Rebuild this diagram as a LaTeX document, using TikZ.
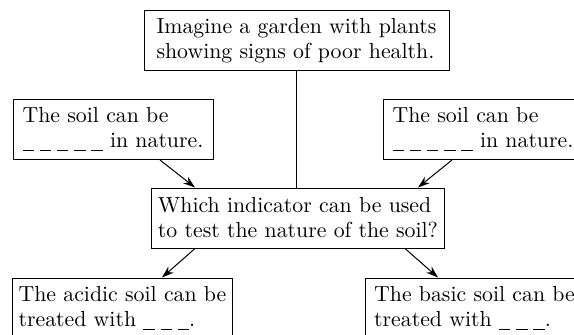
\documentclass[tikz,border=0pt]{standalone}
\usepackage{amsmath}
\usetikzlibrary{arrows.meta}
\newcommand{\blankDash}{\rule[-1.6pt]{0.52em}{0.45pt}}
\newcommand{\blankLong}{\blankDash\hspace{0.27em}\blankDash\hspace{0.27em}\blankDash\hspace{0.27em}\blankDash\hspace{0.27em}\blankDash}
\newcommand{\blankShort}{\blankDash\hspace{0.27em}\blankDash\hspace{0.27em}\blankDash}

\begin{document}
\begin{tikzpicture}[x=1pt,y=1pt,
  box/.style={draw, line width=0.5pt, align=left, inner sep=3pt, minimum height=30pt, font=\fontsize{10.9}{12.5}\selectfont},
  flow/.style={line width=0.5pt, -{Stealth[length=6pt,width=4pt]}}]
\useasboundingbox (0,0) rectangle (287,-167);
\clip (0,0) rectangle (287,-167);
%question boxes
\node[box, minimum width=152.5pt] (garden)     at (148.25, -20.25) {Imagine a garden with plants\\showing signs of poor health.};
\node[box, minimum width=146pt]   (indicator)  at (149,   -109)    {Which indicator can be used\\to test the nature of the soil?};
%soil nature
\node[box, minimum width=100pt]   (soilLeft)   at ( 56.5,  -64.75) {The soil can be\\\blankLong{} in nature.};
\node[box, minimum width=100pt]   (soilRight)  at (241.5,  -64.75) {The soil can be\\\blankLong{} in nature.};
%treatment
\node[box, minimum width=109.5pt] (acidic)     at ( 61.25, -154)   {The acidic soil can be\\treated with \blankShort.};
\node[box, minimum width=109.5pt] (basic)      at (237.25, -154)   {The basic soil can be\\treated with \blankShort.};

\draw[line width=0.5pt] (garden.south) -- (garden.south |- indicator.north);
\draw[flow] ([xshift=23.5pt]soilLeft.south) -- ([xshift=-51.5pt]indicator.north);
\draw[flow] ([xshift=-15.5pt]soilRight.south) -- ([xshift=60pt]indicator.north);
\draw[flow] ([xshift=-51.5pt]indicator.south) -- ([xshift=19.75pt]acidic.north);
\draw[flow] ([xshift=53.5pt]indicator.south) -- ([xshift=-18.25pt]basic.north);
\end{tikzpicture}
\end{document}
